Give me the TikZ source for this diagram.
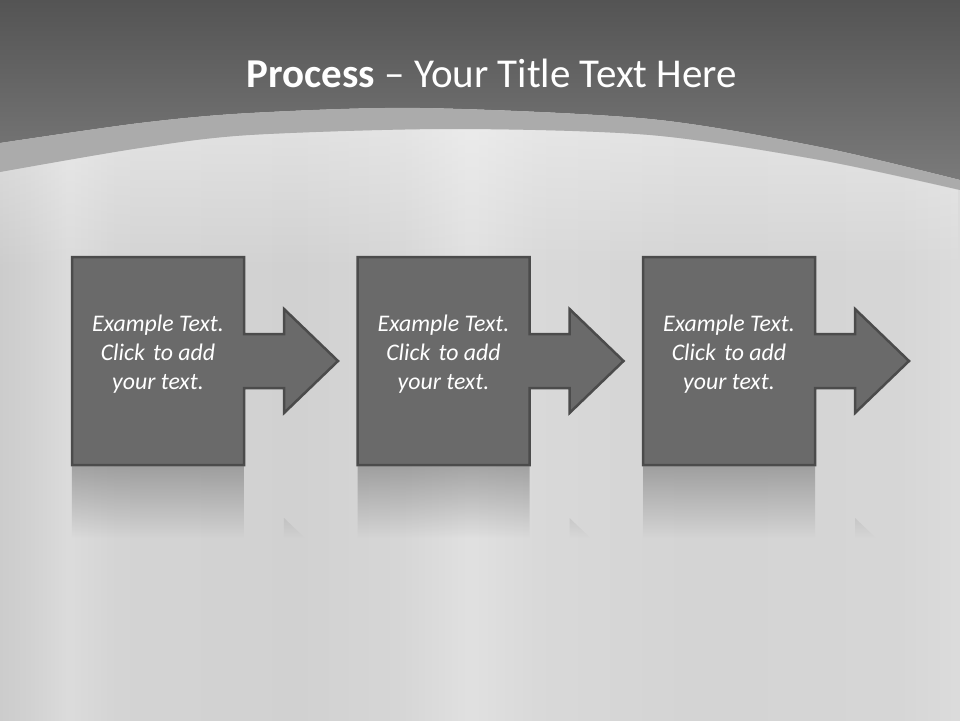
\documentclass[tikz,border=0pt]{standalone}
\usepackage{fontspec}
\setmainfont{Carlito}
\usetikzlibrary{positioning, fadings}

\definecolor{slidetop}{HTML}{545454}
\definecolor{slidemid}{HTML}{7A7A7A}
\definecolor{bandgray}{HTML}{ABABAB}
\definecolor{boxfill}{HTML}{6A6A6A}
\definecolor{boxline}{HTML}{4B4B4B}

% brushed metal, left to right (visible part 25bp..75bp)
\pgfdeclarehorizontalshading{brushed}{100bp}{%
  rgb(0bp)=(.80,.80,.80); rgb(25bp)=(.80,.80,.80);
  rgb(26.5bp)=(.82,.82,.82); rgb(28.6bp)=(.86,.86,.86);
  rgb(31.2bp)=(.83,.83,.83); rgb(40.6bp)=(.82,.82,.82);
  rgb(46.0bp)=(.84,.84,.84); rgb(49.5bp)=(.88,.88,.88);
  rgb(53.0bp)=(.85,.85,.85); rgb(61.5bp)=(.83,.83,.83);
  rgb(71.9bp)=(.84,.84,.84); rgb(75bp)=(.86,.86,.86);
  rgb(100bp)=(.86,.86,.86)}

\tikzfading[name=reflfade, top color=transparent!50, bottom color=transparent!100]
\tikzfading[name=glowfade, top color=transparent!65, bottom color=transparent!100]

\tikzset{
  titletext/.style={text=white, anchor=base, inner sep=0pt, font=\fontsize{41}{48}\selectfont},
  stepshape/.style={fill=boxfill, draw=boxline, line width=2.5pt, line join=miter},
  steptext/.style={text=white, align=center, inner sep=0pt, font=\fontsize{23.8}{29}\selectfont\itshape},
  steprefl/.style={fill=boxfill, path fading=reflfade},
}

\begin{document}
\begin{tikzpicture}[x=1pt, y=-1pt]
    \useasboundingbox (0,0) rectangle (960,720);

    % background
    \shade[shading=brushed] (0,0) rectangle (960,720);
    \fill[white, path fading=glowfade] plot[smooth] coordinates {(0,172) (140,148) (250,135) (450,129) (650,135) (820,160) (960,190)}
        -- (960,270) -- (0,270) -- cycle;
    \shade[top color=slidetop, bottom color=slidemid] (0,0) -- (960,0) -- plot[smooth] coordinates {(960,180) (820,147) (650,119) (420,108) (250,113) (140,123) (0,143)} -- cycle;
    \fill[bandgray] plot[smooth] coordinates {(0,143) (140,123) (250,113) (420,108) (650,119) (820,147) (960,180)}
        -- plot[smooth] coordinates {(960,190) (820,160) (650,135) (450,129) (250,135) (140,148) (0,172)} -- cycle;

    \node[titletext] (title) at (492,87) {\textbf{Process} -- Your Title Text Here};

    % the three steps
    \foreach \i/\x in {1/72, 2/357.5, 3/643} {
        \draw[stepshape] (\x,257) -- ++(172,0) -- ++(0,77) -- ++(40,0) -- ++(0,-25) -- ++(54,52)
            -- ++(-54,52) -- ++(0,-25) -- ++(-40,0) -- ++(0,77) -- ++(-172,0) -- cycle;
        \fill[steprefl] (\x,466) rectangle ++(172,72) (\x+212,518) -- (\x+212,538) -- (\x+233,538) -- cycle;
        \node[steptext] (step\i) at (\x+86,354) {Example Text.\\Click\hspace{3pt} to add\\your text.};
    }
\end{tikzpicture}
\end{document}
